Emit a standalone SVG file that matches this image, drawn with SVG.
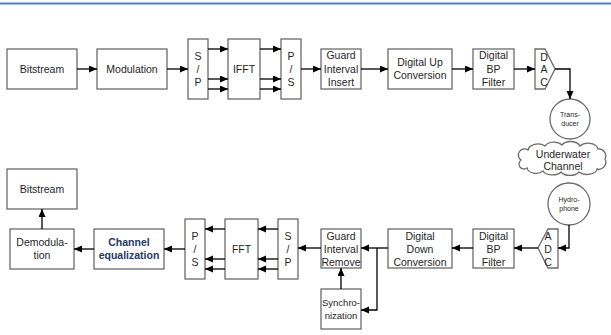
<svg xmlns="http://www.w3.org/2000/svg" width="611" height="335" viewBox="0 0 611 335">
  <style>
    .box { fill: #ffffff; stroke: #6b6b6b; stroke-width: 1.3; }
    .lbl { font-family: "Liberation Sans", Arial, sans-serif; font-size: 10.5px; fill: #262626; text-anchor: middle; }
    .nar { font-size: 9.5px; }
    .sm { font-family: "Liberation Sans", Arial, sans-serif; font-size: 7px; fill: #262626; text-anchor: middle; }
    .eq { font-family: "Liberation Sans", Arial, sans-serif; font-size: 10.5px; font-weight: bold; fill: #1f3864; text-anchor: middle; }
    .wire { fill: none; stroke: #000000; stroke-width: 1.3; }
    .arr { marker-end: url(#head); }
  </style>
  <defs>
    <marker id="head" markerUnits="userSpaceOnUse" markerWidth="9" markerHeight="8" refX="8" refY="3.5" orient="auto">
      <path d="M0,0 L8,3.5 L0,7 Z" fill="#000000"/>
    </marker>
  </defs>

  <rect width="611" height="335" fill="#ffffff"/>
  <!-- header rule -->
  <line x1="0" y1="3.5" x2="611" y2="3.5" stroke="#4f81bd" stroke-width="1.8"/>

  <!-- transmitter chain -->
  <g id="tx-bitstream">
    <rect class="box" x="7" y="49" width="70" height="40"/>
    <text class="lbl" x="42" y="73">Bitstream</text>
  </g>
  <g id="tx-modulation">
    <rect class="box" x="97" y="49" width="70" height="40"/>
    <text class="lbl" x="132" y="73">Modulation</text>
  </g>
  <g id="tx-sp">
    <rect class="box" x="188" y="39" width="20" height="60"/>
    <text class="lbl" x="198" y="60">S</text>
    <text class="lbl" x="198" y="73">/</text>
    <text class="lbl" x="198" y="86">P</text>
  </g>
  <g id="tx-ifft">
    <rect class="box" x="228" y="39" width="32" height="60"/>
    <text class="lbl" x="244" y="73">IFFT</text>
  </g>
  <g id="tx-ps">
    <rect class="box" x="281" y="39" width="20" height="60"/>
    <text class="lbl" x="291" y="60">P</text>
    <text class="lbl" x="291" y="73">/</text>
    <text class="lbl" x="291" y="86">S</text>
  </g>
  <g id="tx-guard">
    <rect class="box" x="321" y="49" width="40" height="40"/>
    <text class="lbl" x="341" y="59">Guard</text>
    <text class="lbl" x="341" y="73">Interval</text>
    <text class="lbl" x="341" y="86">Insert</text>
  </g>
  <g id="tx-duc">
    <rect class="box" x="388" y="49" width="64" height="40"/>
    <text class="lbl" x="420" y="66">Digital Up</text>
    <text class="lbl" x="420" y="79">Conversion</text>
  </g>
  <g id="tx-bpf">
    <rect class="box" x="473" y="49" width="41" height="40"/>
    <text class="lbl" x="493.5" y="59">Digital</text>
    <text class="lbl" x="493.5" y="73">BP</text>
    <text class="lbl" x="493.5" y="86">Filter</text>
  </g>
  <g id="tx-dac">
    <path class="box" d="M535,49 L545,49 L555,69 L545,89 L535,89 Z"/>
    <text class="lbl" x="544" y="61">D</text>
    <text class="lbl" x="544" y="73">A</text>
    <text class="lbl" x="544" y="86">C</text>
  </g>
  <g id="transducer">
    <circle class="box" cx="570" cy="119" r="20"/>
    <text class="sm" x="570" y="117">Trans-</text>
    <text class="sm" x="570" y="126">ducer</text>
  </g>

  <!-- medium -->
  <g id="channel">
    <path class="box" d="M521,160 A6,6 0 0 1 528,150 A10,7 0 0 1 545,146 A10,7 0 0 1 562,145 A10,7 0 0 1 580,146 A10,7 0 0 1 598,149 A7,7 0 0 1 605,159 A7,7 0 0 1 597,169 A10,6 0 0 1 579,172 A10,6 0 0 1 561,172 A10,6 0 0 1 543,171 A9,6 0 0 1 527,168 A5,5 0 0 1 521,160 Z"/>
    <text class="lbl" x="563" y="158">Underwater</text>
    <text class="lbl" x="563" y="170">Channel</text>
  </g>

  <!-- receiver chain -->
  <g id="hydrophone">
    <circle class="box" cx="569" cy="204" r="21"/>
    <text class="sm" x="569" y="202">Hydro-</text>
    <text class="sm" x="569" y="211">phone</text>
  </g>
  <g id="rx-adc">
    <path class="box" d="M558,229 L548,229 L538,248 L548,268 L558,268 Z"/>
    <text class="lbl" x="548" y="240">A</text>
    <text class="lbl" x="548" y="253">D</text>
    <text class="lbl" x="548" y="266">C</text>
  </g>
  <g id="rx-bpf">
    <rect class="box" x="473" y="229" width="41" height="39"/>
    <text class="lbl" x="493.5" y="240">Digital</text>
    <text class="lbl" x="493.5" y="253">BP</text>
    <text class="lbl" x="493.5" y="266">Filter</text>
  </g>
  <g id="rx-ddc">
    <rect class="box" x="388" y="229" width="64" height="39"/>
    <text class="lbl" x="420" y="240">Digital</text>
    <text class="lbl" x="420" y="253">Down</text>
    <text class="lbl" x="420" y="266">Conversion</text>
  </g>
  <g id="rx-guard">
    <rect class="box" x="321" y="229" width="40" height="39"/>
    <text class="lbl" x="341" y="240">Guard</text>
    <text class="lbl" x="341" y="253">Interval</text>
    <text class="lbl" x="341" y="266">Remove</text>
  </g>
  <g id="rx-sync">
    <rect class="box" x="321" y="289" width="40" height="40"/>
    <text class="lbl nar" x="341" y="306">Synchro-</text>
    <text class="lbl nar" x="341" y="319">nization</text>
  </g>
  <g id="rx-sp">
    <rect class="box" x="278" y="219" width="20" height="60"/>
    <text class="lbl" x="288" y="240">S</text>
    <text class="lbl" x="288" y="253">/</text>
    <text class="lbl" x="288" y="266">P</text>
  </g>
  <g id="rx-fft">
    <rect class="box" x="225" y="219" width="33" height="60"/>
    <text class="lbl" x="241.5" y="253">FFT</text>
  </g>
  <g id="rx-ps">
    <rect class="box" x="185" y="219" width="20" height="60"/>
    <text class="lbl" x="195" y="240">P</text>
    <text class="lbl" x="195" y="253">/</text>
    <text class="lbl" x="195" y="266">S</text>
  </g>
  <g id="rx-equalizer">
    <rect class="box" x="94" y="229" width="70" height="40"/>
    <text class="eq" x="129" y="246">Channel</text>
    <text class="eq" x="129" y="259">equalization</text>
  </g>
  <g id="rx-demodulation">
    <rect class="box" x="10" y="229" width="64" height="40"/>
    <text class="lbl" x="42" y="246">Demodula-</text>
    <text class="lbl" x="42" y="259">tion</text>
  </g>
  <g id="rx-bitstream">
    <rect class="box" x="7" y="169" width="70" height="40"/>
    <text class="lbl" x="42" y="193">Bitstream</text>
  </g>

  <!-- connectors -->
  <g id="connectors">
    <line class="wire arr" x1="77" y1="69" x2="97" y2="69"/>
    <line class="wire arr" x1="167" y1="69" x2="188" y2="69"/>
    <line class="wire arr" x1="208" y1="49" x2="228" y2="49"/>
    <line class="wire arr" x1="208" y1="79" x2="228" y2="79"/>
    <line class="wire arr" x1="208" y1="89" x2="228" y2="89"/>
    <line class="wire arr" x1="260" y1="49" x2="281" y2="49"/>
    <line class="wire arr" x1="260" y1="79" x2="281" y2="79"/>
    <line class="wire arr" x1="260" y1="89" x2="281" y2="89"/>
    <line class="wire arr" x1="301" y1="69" x2="321" y2="69"/>
    <line class="wire arr" x1="361" y1="69" x2="388" y2="69"/>
    <line class="wire arr" x1="452" y1="69" x2="473" y2="69"/>
    <line class="wire arr" x1="514" y1="69" x2="535" y2="69"/>
    <path class="wire arr" d="M555,69 H570 V99"/>

    <path class="wire arr" d="M569,225 V248 H558"/>
    <line class="wire arr" x1="538" y1="248" x2="514" y2="248"/>
    <line class="wire arr" x1="473" y1="248" x2="452" y2="248"/>
    <line class="wire arr" x1="388" y1="248" x2="361" y2="248"/>
    <path class="wire arr" d="M377,248 V310 H361"/>
    <line class="wire arr" x1="341" y1="289" x2="341" y2="268"/>
    <line class="wire arr" x1="321" y1="248" x2="298" y2="248"/>
    <line class="wire arr" x1="278" y1="229" x2="258" y2="229"/>
    <line class="wire arr" x1="278" y1="259" x2="258" y2="259"/>
    <line class="wire arr" x1="278" y1="269" x2="258" y2="269"/>
    <line class="wire arr" x1="225" y1="229" x2="205" y2="229"/>
    <line class="wire arr" x1="225" y1="259" x2="205" y2="259"/>
    <line class="wire arr" x1="225" y1="269" x2="205" y2="269"/>
    <line class="wire arr" x1="185" y1="249" x2="164" y2="249"/>
    <line class="wire arr" x1="94" y1="249" x2="74" y2="249"/>
    <line class="wire arr" x1="42" y1="229" x2="42" y2="209"/>
  </g>
</svg>
